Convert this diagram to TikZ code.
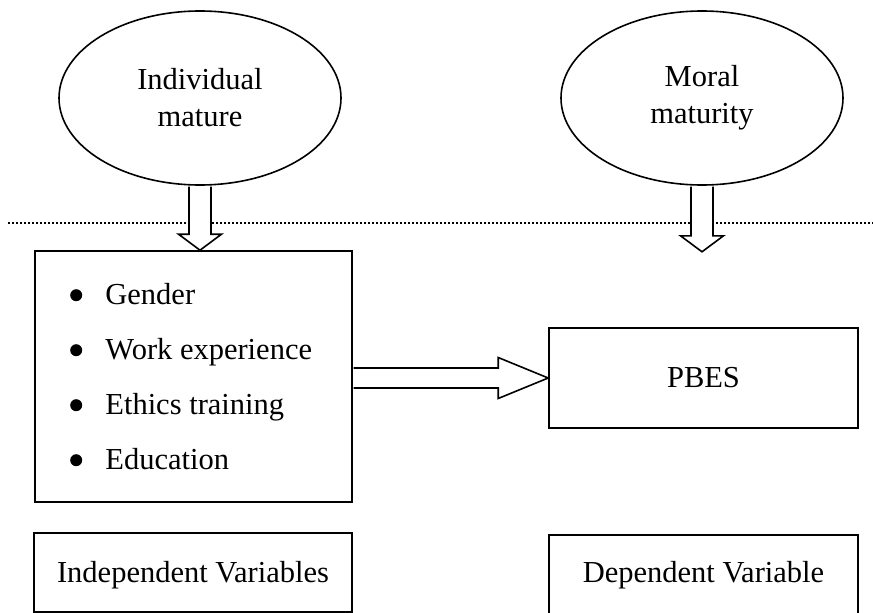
\documentclass[tikz,border=0pt]{standalone}
\usepackage{fontspec}
\setmainfont{Liberation Serif}
\usetikzlibrary{positioning, calc, shapes.geometric}

\tikzset{
  oval/.style={draw, ellipse, line width=1.6pt, inner sep=0pt, minimum width=282pt, minimum height=174pt, align=center},
  varbox/.style={draw, rectangle, line width=1.6pt, inner sep=0pt},
  fatarrow/.style={draw, fill=white, line width=1.6pt, line join=miter},
}

\begin{document}
\begin{tikzpicture}[x=1pt, y=-1pt, font=\fontsize{30.5}{37}\selectfont]
    \useasboundingbox (0,0) rectangle (873,613);

    % Level line
    \draw[line width=1.8pt, dash pattern=on 1.8pt off 2.2pt] (8,223) -- (873,223);

    % Ovals
    \node[oval] (indmat) at (200,98) {Individual\\mature};
    \node[oval] (moral) at (702,98) {Moral\\maturity};

    % Variable boxes
    \node[varbox, minimum width=317pt, minimum height=251pt] (ivbox) at (193.5,376.5) {};
    \foreach \entry [count=\i] in {Gender, Work experience, Ethics training, Education} {
        \node[anchor=base west, inner sep=0pt] (item\i) at ($(ivbox.north west)+(71,54+55*\i-55)$) {\entry};
        \fill ($(item\i.base west)+(-29,-9)$) circle (6pt);
    }
    \node[varbox, minimum width=309pt, minimum height=100pt] (pbes) at (703.5,378) {PBES};
    \node[varbox, minimum width=318pt, minimum height=79pt, text depth=1.6pt] (indep) at (193,572.5) {Independent Variables};
    \node[varbox, minimum width=309pt, minimum height=81pt] (dep) at (703.5,575.5) {Dependent Variable};

    % Arrows
    \coordinate (indtip) at (indmat.south |- ivbox.north);
    \coordinate (moraltip) at ($(moral.south)+(0,66)$);
    \draw[fatarrow] ($(indmat.south)+(-11,0.8)$) -- ($(indtip)+(-11,-16)$) -- ($(indtip)+(-21.5,-16)$) -- (indtip)
        -- ($(indtip)+(21.5,-16)$) -- ($(indtip)+(11,-16)$) -- ($(indmat.south)+(11,0.8)$);
    \draw[fatarrow] ($(moral.south)+(-11,0.8)$) -- ($(moraltip)+(-11,-16)$) -- ($(moraltip)+(-21.5,-16)$) -- (moraltip)
        -- ($(moraltip)+(21.5,-16)$) -- ($(moraltip)+(11,-16)$) -- ($(moral.south)+(11,0.8)$);
    \draw[fatarrow] ($(ivbox.east |- pbes.west)+(0.8,-10)$) -- ($(pbes.west)+(-50,-10)$) -- ($(pbes.west)+(-50,-20.5)$) -- (pbes.west)
        -- ($(pbes.west)+(-50,20.5)$) -- ($(pbes.west)+(-50,10)$) -- ($(ivbox.east |- pbes.west)+(0.8,10)$);
\end{tikzpicture}
\end{document}
